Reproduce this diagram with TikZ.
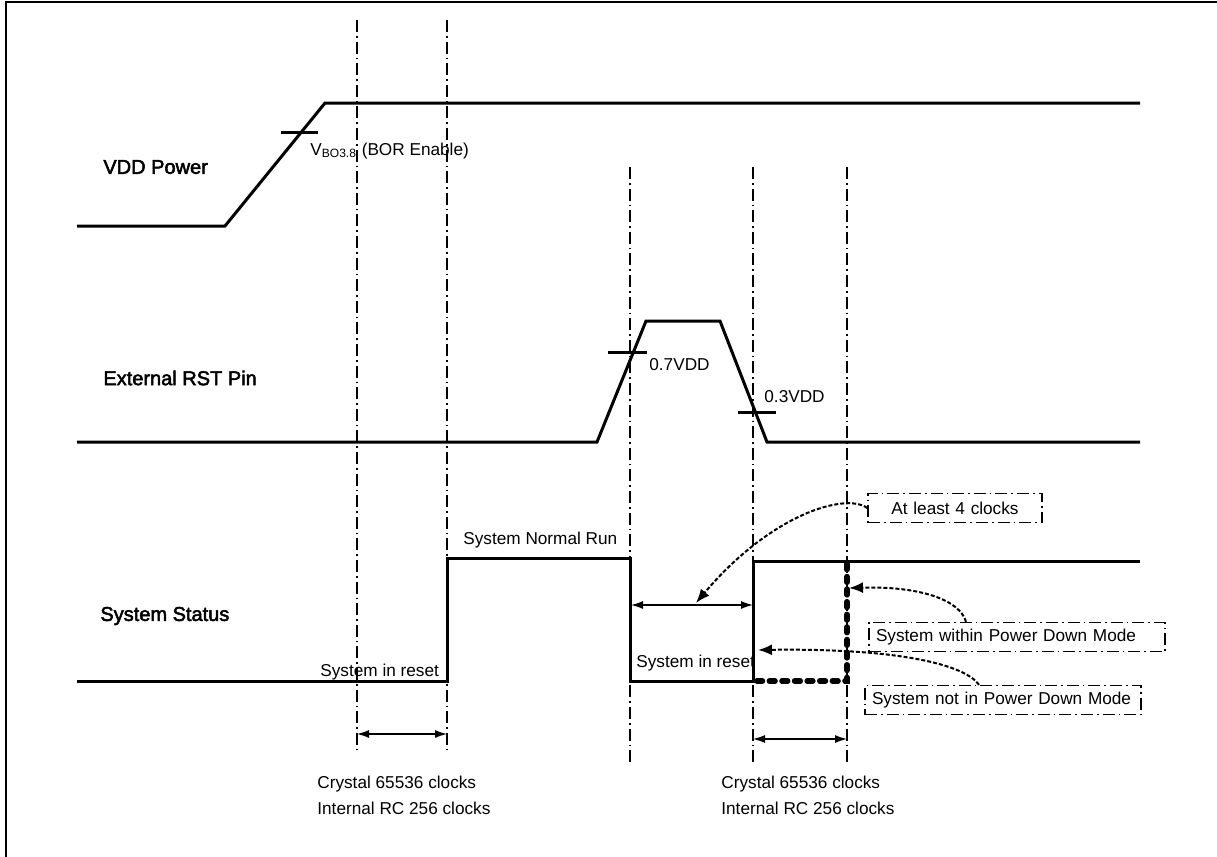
\documentclass[tikz,border=0pt]{standalone}
\usepackage{fontspec}
\setmainfont{Liberation Sans}
\newfontfamily\heavyfont[FakeBold=2.5]{Liberation Sans}
\usetikzlibrary{arrows.meta}
\tikzstyle{wave} = [line width=1.5pt]
\tikzstyle{guide} = [
    line width=0.7pt,
    dash pattern=on 6pt off 2pt on 0.8pt off 2pt
]
\tikzstyle{note} = [
    draw,
    line width=0.7pt,
    dash pattern=on 6pt off 2pt on 0.8pt off 2pt,
    minimum height=14.5pt,
    inner xsep=3.5pt,
    inner ysep=0pt
]
\tikzstyle{signal} = [anchor=west, inner sep=0pt, font=\heavyfont]
\tikzstyle{txt} = [anchor=west, inner sep=0pt]
\tikzstyle{span} = [line width=0.6pt, {Latex[length=6pt,width=4pt]}-{Latex[length=6pt,width=4pt]}]
\tikzstyle{pointer} = [
    line width=1pt,
    dash pattern=on 2pt off 1pt,
    -{Latex[length=7pt,width=5.5pt]}
]
\tikzstyle{bolddots} = [line width=2.8pt, dash pattern=on 2.8pt off 3.5pt, line cap=round]

\begin{document}
\begin{tikzpicture}[x=0.5pt, y=-0.5pt, font=\fontsize{8.6}{10}\selectfont]
\useasboundingbox (0,0) rectangle (1217,857);

% frame
\draw[line width=1.2pt] (6,857) -- (6,2) -- (1217,2);

% guide lines
\foreach \gx/\gtop/\gbot in {357/20/752, 447/20/752, 630/167/762, 753/167/762, 847/167/762}
    \draw[guide] (\gx,\gtop) -- (\gx,\gbot);

% VDD power
\node (vdd) [signal] at (103,167) {VDD Power};
\draw[wave] (77,226) -- (225,226) -- (325,103) -- (1140,103);
\draw[wave] (281,132) -- (318,132);
\node (vbo) [txt, anchor=base west] at (310,155) {V\textsubscript{BO3.8} (BOR Enable)};

% external reset pin
\node (rst) [signal] at (103,378) {External RST Pin};
\draw[wave] (77,442) -- (597,442) -- (646,321) -- (720,321) -- (767,442) -- (1140,442);
\draw[wave] (608,352) -- (647,352);
\draw[wave] (738,412) -- (776,412);
\node (hi) [txt] at (649,365) {0.7VDD};
\node (lo) [txt] at (764,397) {0.3VDD};

% system status
\node (sys) [signal] at (100,616) {System Status};
\draw[wave] (77,681) -- (447,681) -- (447,558) -- (630,558) -- (630,681)
    -- (753,681) -- (753,561) -- (1140,561);
\draw[bolddots] (847,564) -- (847,681) -- (757,681);
\node (run) [txt] at (463,540) {System Normal Run};
\node (reset1) [txt] at (320,672) {System in reset};
\node (reset2) [txt] at (636,663) {System in reset};

\coordinate (gap) at (696,603);
\coordinate (pdm) at (849,588);
\coordinate (npdm) at (758,650);

\node (atleast) [note, text width=80pt, align=center] at (955,508) {At least 4 clocks};
\node (within) [note, text width=141pt, align=left] at (1017,637) {System within Power Down Mode};
\node (notin) [note, text width=131pt, align=left] at (1003,700) {System not in Power Down Mode};

\draw[span] (631,605) -- (753,605);
\draw[span] (357,734) -- (447,734);
\draw[span] (753,739) -- (847,739);

\draw[pointer] (atleast.west) .. controls (845,492) and (770,515) .. (gap);
\draw[pointer] ([xshift=-25.5pt]within.north) .. controls (960,600) and (920,586) .. (pdm);
\draw[pointer] ([xshift=-12pt]notin.north) .. controls (965,665) and (900,648) .. (npdm);

% clock counts
\node (xtal1) [txt] at (317,784) {Crystal 65536 clocks};
\node (irc1) [txt] at (317,808) {Internal RC 256 clocks};
\node (xtal2) [txt] at (721,784) {Crystal 65536 clocks};
\node (irc2) [txt] at (721,808) {Internal RC 256 clocks};

\end{tikzpicture}
\end{document}
